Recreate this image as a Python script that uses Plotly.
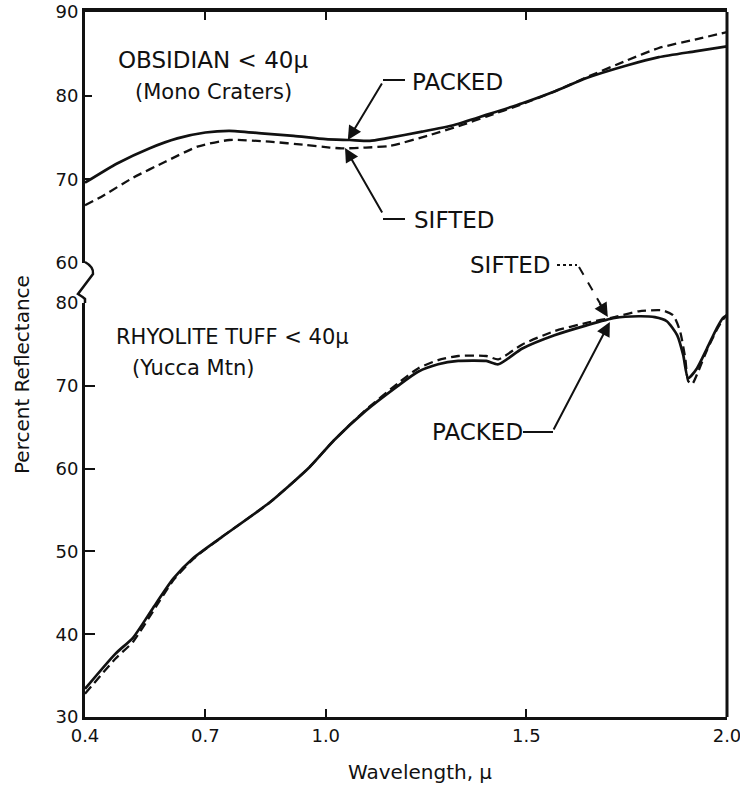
import plotly.graph_objects as go

# ---------------- data: percent reflectance vs wavelength (microns) ----------------
# Obsidian < 40 micron (Mono Craters)
obs_wl_packed = [0.40, 0.48, 0.56, 0.63, 0.70, 0.76, 0.84, 0.92, 1.00, 1.06, 1.11, 1.15,
                 1.24, 1.32, 1.40, 1.49, 1.57, 1.65, 1.75, 1.83, 1.92, 2.00]
obs_packed = [69.6, 71.9, 73.7, 74.9, 75.6, 75.8, 75.5, 75.2, 74.8, 74.7, 74.6, 74.9,
              75.7, 76.5, 77.7, 79.1, 80.5, 82.1, 83.6, 84.6, 85.3, 85.9]

obs_wl_sifted = [0.40, 0.44, 0.52, 0.60, 0.68, 0.76, 0.86, 0.95, 1.01, 1.04, 1.10,
                 1.16, 1.26, 1.34, 1.40, 1.49, 1.57, 1.65, 1.75, 1.83, 1.92, 2.00]
obs_sifted = [66.9, 67.9, 70.2, 72.1, 73.9, 74.7, 74.5, 74.1, 73.8, 73.7, 73.8,
              74.0, 75.3, 76.5, 77.5, 79.0, 80.5, 82.2, 84.2, 85.7, 86.7, 87.6]

# Rhyolite tuff < 40 micron (Yucca Mtn)
tuff_wl_packed = [0.40, 0.475, 0.52, 0.57, 0.62, 0.67, 0.74, 0.86, 0.96, 1.02, 1.10,
                  1.18, 1.23, 1.28, 1.33, 1.40, 1.43, 1.49, 1.57, 1.65, 1.72, 1.78, 1.82,
                  1.85, 1.876, 1.891, 1.903, 1.925, 1.95, 1.975, 1.99, 2.00]
tuff_packed = [33.4, 37.6, 39.6, 43.2, 46.7, 49.2, 51.7, 55.9, 60.2, 63.4, 67.0,
               70.0, 71.7, 72.6, 73.0, 73.0, 72.6, 74.5, 76.1, 77.3, 78.2, 78.4, 78.3,
               77.8, 76.1, 73.7, 70.9, 72.1, 74.5, 77.0, 78.2, 78.5]

tuff_wl_sifted = [0.40, 0.475, 0.52, 0.57, 0.62, 0.67, 0.74, 0.86, 0.96, 1.02, 1.10,
                  1.18, 1.23, 1.28, 1.33, 1.40, 1.43, 1.49, 1.57, 1.65, 1.72, 1.78, 1.84,
                  1.866, 1.883, 1.896, 1.903, 1.913, 1.928, 1.95, 1.975, 1.99, 2.00]
tuff_sifted = [32.8, 37.0, 39.1, 42.8, 46.5, 49.1, 51.7, 55.9, 60.2, 63.4, 67.1,
               70.3, 72.1, 73.1, 73.6, 73.6, 73.2, 75.0, 76.6, 77.6, 78.3, 79.0, 79.1,
               78.5, 76.6, 73.3, 70.6, 70.2, 71.7, 74.3, 76.8, 78.0, 78.6]

x_tickvals = [0.4, 0.7, 1.0, 1.5, 2.0]
x_ticktext = ["0.4", "0.7", "1.0", "1.5", "2.0"]
obs_yticks = [60, 70, 80, 90]
tuff_yticks = [30, 40, 50, 60, 70, 80]

# ---------------- page geometry ----------------
W, H = 740, 789
ML, MR, MT, MB = 85, 13, 12, 72
PW = W - ML - MR
PH = H - MT - MB


def px(xp):
    """page pixel x -> paper x"""
    return (xp - ML) / PW


def py(yp):
    """page pixel y -> paper y"""
    return (H - MB - yp) / PH


FONT = "DejaVu Sans"
INK = "#111111"

fig = go.Figure()

solid = dict(color=INK, width=2.7, shape="spline", smoothing=0.6)
dashed = dict(color=INK, width=2.3, dash="9px,5px", shape="spline", smoothing=0.6)

fig.add_trace(go.Scatter(x=obs_wl_packed, y=obs_packed, xaxis="x2", yaxis="y2",
                         mode="lines", line=solid, name="Packed"))
fig.add_trace(go.Scatter(x=obs_wl_sifted, y=obs_sifted, xaxis="x2", yaxis="y2",
                         mode="lines", line=dashed, name="Sifted"))
fig.add_trace(go.Scatter(x=tuff_wl_packed, y=tuff_packed, xaxis="x", yaxis="y",
                         mode="lines", line=solid, name="Packed"))
fig.add_trace(go.Scatter(x=tuff_wl_sifted, y=tuff_sifted, xaxis="x", yaxis="y",
                         mode="lines", line=dashed, name="Sifted"))

axis_common = dict(showgrid=False, zeroline=False, showline=True, linecolor=INK,
                   tickcolor=INK, ticks="inside", tickwidth=2,
                   ticklabeloverflow="allow", automargin=False,
                   tickfont=dict(family=FONT, size=18, color=INK))

bottom_top = py(303)
top_bottom = py(263)

fig.update_layout(
    width=W, height=H,
    margin=dict(l=ML, r=MR, t=MT, b=MB, pad=0, autoexpand=False),
    paper_bgcolor="white", plot_bgcolor="white",
    showlegend=False,
    xaxis=dict(domain=[0, 1], anchor="y", range=[0.4, 2.0],
               tickvals=x_tickvals, ticktext=x_ticktext, ticklen=8,
               linewidth=3, **axis_common),
    xaxis2=dict(domain=[0, 1], anchor="y2", side="top", range=[0.4, 2.0],
                matches="x", tickvals=[0.7, 1.0, 1.5], ticklen=8,
                showticklabels=False, linewidth=4, **axis_common),
    yaxis=dict(domain=[0, bottom_top], anchor="x", range=[30, 80],
               tickvals=tuff_yticks, ticklen=10, linewidth=3, **axis_common),
    yaxis2=dict(domain=[top_bottom, 1], anchor="x2", range=[60, 90],
                tickvals=obs_yticks, ticklen=7, linewidth=3, **axis_common),
)

# right frame edge, continuous through both panels
shapes = [dict(type="line", xref="paper", yref="paper", x0=1, x1=1, y0=0, y1=1,
               line=dict(color=INK, width=3))]

# axis break between 60 (upper scale) and 80 (lower scale)
brk = (f"M {px(85)},{py(262)} Q {px(94)},{py(267)} {px(93)},{py(274)} "
       f"L {px(78)},{py(294)} Q {px(83)},{py(297)} {px(85)},{py(299)} "
       f"L {px(85)},{py(303)}")
shapes.append(dict(type="path", xref="paper", yref="paper", path=brk,
                   line=dict(color=INK, width=2.5)))


# leader lines for the curve labels
def seg(x0, y0, x1, y1, dash="solid", width=2):
    return dict(type="line", xref="paper", yref="paper",
                x0=px(x0), y0=py(y0), x1=px(x1), y1=py(y1),
                line=dict(color=INK, width=width, dash=dash))


shapes += [
    seg(383, 80, 405, 80),                    # PACKED (obsidian)
    seg(383, 219, 405, 219),                  # SIFTED (obsidian)
    seg(557, 265, 577, 265, dash="dot"),      # SIFTED (tuff) trailing dots
    seg(579, 267, 601, 305, dash="dash"),     # SIFTED (tuff) dashed leader
    seg(523, 432, 553, 432),                  # PACKED (tuff)
]
fig.update_layout(shapes=shapes)

arrow = dict(showarrow=True, arrowhead=2, arrowsize=1.4, arrowwidth=2,
             arrowcolor=INK, text="", standoff=0)
fig.add_annotation(x=1.055, y=74.7, xref="x2", yref="y2", ax=35, ay=-58, **arrow)
fig.add_annotation(x=1.048, y=73.75, xref="x2", yref="y2", ax=38, ay=66, **arrow)
fig.add_annotation(x=1.703, y=78.3, xref="x", yref="y", ax=-9, ay=-15, **arrow)
fig.add_annotation(x=1.708, y=77.7, xref="x", yref="y", ax=-57, ay=109, **arrow)


def label(text, xp, yp, size, anchor="left"):
    fig.add_annotation(x=px(xp), y=py(yp), xref="paper", yref="paper",
                       xanchor=anchor, yanchor="middle", showarrow=False,
                       text=text, font=dict(family=FONT, size=size, color=INK))


label("OBSIDIAN &lt; 40μ", 116, 60, 23)
label("(Mono Craters)", 133, 92, 21)
label("RHYOLITE TUFF &lt; 40μ", 114, 337, 21)
label("(Yucca Mtn)", 130, 368, 21)
label("PACKED", 410, 82, 23)
label("SIFTED", 412, 220, 23)
label("SIFTED", 468, 265, 23)
label("PACKED", 430, 432, 23)

# axis titles
fig.add_annotation(x=px(22), y=py(375), xref="paper", yref="paper",
                   text="Percent Reflectance", textangle=-90, showarrow=False,
                   xanchor="center", yanchor="middle",
                   font=dict(family=FONT, size=20, color=INK))
fig.add_annotation(x=px(420), y=py(772), xref="paper", yref="paper",
                   text="Wavelength, μ", showarrow=False,
                   xanchor="center", yanchor="middle",
                   font=dict(family=FONT, size=20, color=INK))

fig.write_html("out.html")
